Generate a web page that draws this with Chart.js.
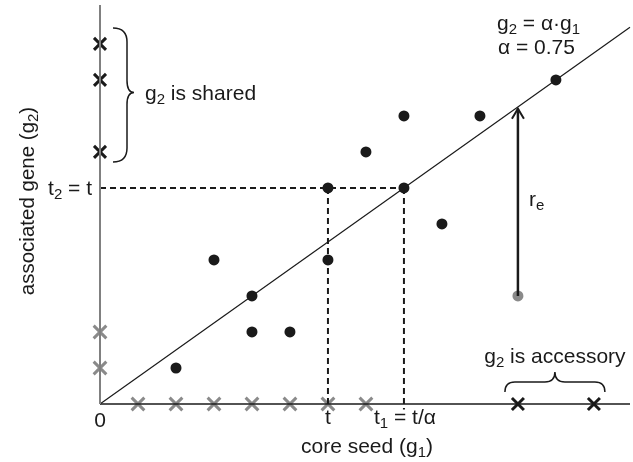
<!DOCTYPE html>
<html><head><meta charset="utf-8">
<script src="https://cdn.jsdelivr.net/npm/chart.js"></script>
<style>html,body{margin:0;padding:0;background:#fff}#wrap{width:633px;height:462px}</style>
</head><body><div id="wrap"><canvas id="c" width="633" height="462"></canvas></div>
<script>
// ---- data (grid units) ----
const dotX = [2, 3, 4, 4, 5, 6, 6, 7, 8, 8, 9, 10, 12];
const dotY = [1, 4, 3, 2, 2, 4, 6, 7, 6, 8, 5, 8, 9];
const grayDotX = [11];
const grayDotY = [3];
const grayCrossX = [1, 2, 3, 4, 5, 6, 7, 0, 0];
const grayCrossY = [0, 0, 0, 0, 0, 0, 0, 1, 2];
const blackCrossX = [11, 13, 0, 0, 0];
const blackCrossY = [0, 0, 7, 9, 10];
const alpha = 0.75;
const tValue = 6;
const t1Value = 8;
const xMax = 13.95;
const yMax = 11.08;
const lineX = [0, 13.95];
const lineY = [0, 10.46];
const arrowTopY = 8.2;

const pts = (xs, ys) => xs.map((x, i) => ({x, y: ys[i]}));
const FONT = '"Liberation Sans", Arial, Helvetica, sans-serif';

function rich(ctx, parts, x, y, align, size) {
  let w = 0;
  const segs = parts.map(([s, sub]) => {
    const fs = sub ? Math.round(size * 0.72) : size;
    ctx.font = fs + 'px ' + FONT;
    const mw = ctx.measureText(s).width;
    w += mw;
    return {s, sub, fs, mw};
  });
  let cx = align === 'center' ? x - w / 2 : (align === 'right' ? x - w : x);
  ctx.textAlign = 'left';
  ctx.textBaseline = 'alphabetic';
  segs.forEach(g => {
    ctx.font = g.fs + 'px ' + FONT;
    ctx.fillText(g.s, cx, y + (g.sub ? size * 0.2 : 0));
    cx += g.mw;
  });
}

const annot = {
  id: 'annot',
  afterDatasetsDraw(chart) {
    const ctx = chart.ctx;
    const xs = chart.scales.x, ys = chart.scales.y;
    const px = v => xs.getPixelForValue(v), py = v => ys.getPixelForValue(v);
    ctx.save();
    ctx.fillStyle = '#1a1a1a';
    ctx.strokeStyle = '#1a1a1a';
    // arrow head
    const ax = px(grayDotX[0]), ay = py(arrowTopY);
    ctx.lineWidth = 2;
    ctx.beginPath();
    ctx.moveTo(ax - 6, ay + 10); ctx.lineTo(ax, ay); ctx.lineTo(ax + 6, ay + 10);
    ctx.stroke();
    // vertical brace
    const bx0 = px(0) + 13, bx1 = px(0) + 27, bxp = px(0) + 34;
    const bt = py(10) - 16, bb = py(7) + 10, bm = py(8.65);
    ctx.lineWidth = 1.5;
    ctx.beginPath();
    ctx.moveTo(bx0, bt);
    ctx.quadraticCurveTo(bx1, bt, bx1, bt + 14);
    ctx.lineTo(bx1, bm - 12);
    ctx.quadraticCurveTo(bx1, bm, bxp, bm);
    ctx.quadraticCurveTo(bx1, bm, bx1, bm + 12);
    ctx.lineTo(bx1, bb - 14);
    ctx.quadraticCurveTo(bx1, bb, bx0, bb);
    ctx.stroke();
    // horizontal brace
    const hl = px(11) - 13, hr = px(13) + 11, hm = (hl + hr) / 2;
    const hb = py(0) - 12, hs = py(0) - 22, hp = py(0) - 32;
    ctx.beginPath();
    ctx.moveTo(hl, hb);
    ctx.quadraticCurveTo(hl, hs, hl + 10, hs);
    ctx.lineTo(hm - 10, hs);
    ctx.quadraticCurveTo(hm, hs, hm, hp);
    ctx.quadraticCurveTo(hm, hs, hm + 10, hs);
    ctx.lineTo(hr - 10, hs);
    ctx.quadraticCurveTo(hr, hs, hr, hb);
    ctx.stroke();
    // texts
    const S = 21;
    rich(ctx, [['g'], ['2', 1], [' is shared']], bxp + 11, bm + 7, 'left', S);
    rich(ctx, [['g'], ['2', 1], [' = α·g'], ['1', 1]], 497, 30, 'left', S);
    rich(ctx, [['α = 0.75']], 498, 54, 'left', S);
    rich(ctx, [['t'], ['2', 1], [' = t']], px(0) - 8, py(tValue) + 7, 'right', S);
    rich(ctx, [['0']], px(0), py(0) + 23, 'center', S);
    rich(ctx, [['t']], px(tValue), py(0) + 20, 'center', S);
    rich(ctx, [['t'], ['1', 1], [' = t/α']], px(t1Value) + 1, py(0) + 20, 'center', S);
    rich(ctx, [['core seed (g'], ['1', 1], [')']], 367, 453, 'center', S);
    rich(ctx, [['g'], ['2', 1], [' is accessory']], hm, hp - 9, 'center', S);
    rich(ctx, [['r'], ['e', 1]], ax + 11, py(5.5), 'left', S);
    ctx.save();
    ctx.translate(34, 201);
    ctx.rotate(-Math.PI / 2);
    rich(ctx, [['associated gene (g'], ['2', 1], [')']], 0, 0, 'center', 20.5);
    ctx.restore();
    ctx.restore();
  }
};

new Chart(document.getElementById('c'), {
  type: 'scatter',
  data: {
    datasets: [
      {data: [{x: 0, y: 0}, {x: 0, y: yMax}], showLine: true, borderColor: '#808080', borderWidth: 2, pointRadius: 0},
      {data: [{x: 0, y: 0}, {x: xMax, y: 0}], showLine: true, borderColor: '#1a1a1a', borderWidth: 1.5, pointRadius: 0},
      {data: pts(lineX, lineY), showLine: true, borderColor: '#1a1a1a', borderWidth: 1.2, pointRadius: 0},
      {data: [{x: 0, y: tValue}, {x: t1Value, y: tValue}], showLine: true, borderColor: '#1a1a1a', borderWidth: 2, borderDash: [6, 4], pointRadius: 0},
      {data: [{x: tValue, y: tValue}, {x: tValue, y: -0.1}], showLine: true, borderColor: '#1a1a1a', borderWidth: 2, borderDash: [6, 4], pointRadius: 0},
      {data: [{x: t1Value, y: tValue}, {x: t1Value, y: -0.15}], showLine: true, borderColor: '#1a1a1a', borderWidth: 2, borderDash: [6, 4], pointRadius: 0},
      {data: [{x: grayDotX[0], y: grayDotY[0]}, {x: grayDotX[0], y: arrowTopY}], showLine: true, borderColor: '#1a1a1a', borderWidth: 2.5, pointRadius: 0},
      {data: pts(grayCrossX, grayCrossY), pointStyle: 'crossRot', pointRadius: 9, borderColor: '#8a8a8a', borderWidth: 3},
      {data: pts(blackCrossX, blackCrossY), pointStyle: 'crossRot', pointRadius: 8.5, borderColor: '#1a1a1a', borderWidth: 3},
      {data: pts(dotX, dotY), pointRadius: 5.5, backgroundColor: '#1a1a1a', borderColor: '#1a1a1a', borderWidth: 0},
      {data: pts(grayDotX, grayDotY), pointRadius: 5.5, backgroundColor: '#8a8a8a', borderColor: '#8a8a8a', borderWidth: 0}
    ]
  },
  options: {
    responsive: false,
    animation: false,
    clip: false,
    layout: {autoPadding: false, padding: {left: 100, right: 3, top: 5, bottom: 58}},
    scales: {
      x: {type: 'linear', min: 0, max: xMax, display: false},
      y: {type: 'linear', min: 0, max: yMax, display: false}
    },
    plugins: {legend: {display: false}, tooltip: {enabled: false}}
  },
  plugins: [annot]
});
</script>
</body></html>
